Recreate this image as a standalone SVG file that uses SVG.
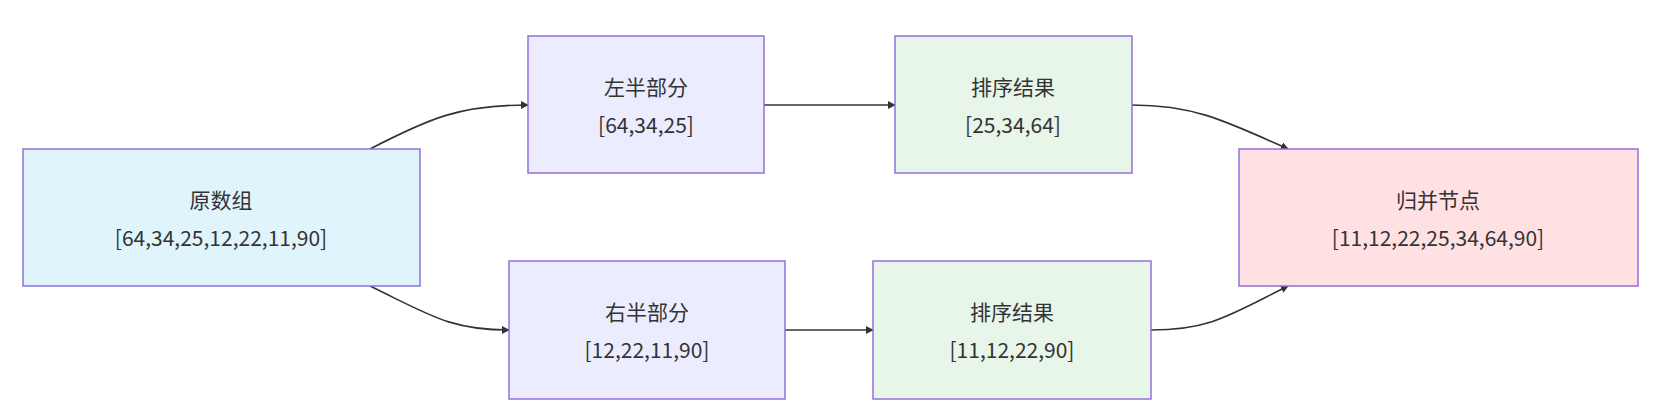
<svg xmlns="http://www.w3.org/2000/svg" width="1660" height="418" viewBox="0 0 1660 418">
<defs>
<style>
.n{stroke:#9370DB;stroke-width:1.5}
.t{font-family:"Noto Sans CJK SC","Liberation Sans",sans-serif;font-size:21px;fill:#333;text-anchor:middle}
.e{fill:none;stroke:#333;stroke-width:1.6}
</style>
<marker id="a" viewBox="0 0 10 10" refX="9" refY="5" markerWidth="8" markerHeight="8" orient="auto-start-reverse" markerUnits="userSpaceOnUse"><path d="M0,0L10,5L0,10z" fill="#333"/></marker>
</defs>
<rect width="1660" height="418" fill="#fff"/>
<g id="edges">
<path class="e" marker-end="url(#a)" d="M370,149 C430,118 460,105 528,105"/>
<path class="e" marker-end="url(#a)" d="M764,105 L895,105"/>
<path class="e" marker-end="url(#a)" d="M1132,105 C1190,105 1220,118 1288,149"/>
<path class="e" marker-end="url(#a)" d="M370,286 C430,315 450,330 509,330"/>
<path class="e" marker-end="url(#a)" d="M785,330 L873,330"/>
<path class="e" marker-end="url(#a)" d="M1151,330 C1210,330 1230,315 1288,286"/>
</g>
<g id="src"><rect class="n" x="23" y="149" width="397" height="137" fill="#E0F4FC"/><text class="t" x="221" y="208">原数组</text><text class="t" x="221" y="246">[64,34,25,12,22,11,90]</text></g>
<g id="left"><rect class="n" x="528" y="36" width="236" height="137" fill="#ECECFF"/><text class="t" x="646" y="95">左半部分</text><text class="t" x="646" y="133">[64,34,25]</text></g>
<g id="sortL"><rect class="n" x="895" y="36" width="237" height="137" fill="#E8F5E9"/><text class="t" x="1013" y="95">排序结果</text><text class="t" x="1013" y="133">[25,34,64]</text></g>
<g id="right"><rect class="n" x="509" y="261" width="276" height="138" fill="#ECECFF"/><text class="t" x="647" y="320">右半部分</text><text class="t" x="647" y="358">[12,22,11,90]</text></g>
<g id="sortR"><rect class="n" x="873" y="261" width="278" height="138" fill="#E8F5E9"/><text class="t" x="1012" y="320">排序结果</text><text class="t" x="1012" y="358">[11,12,22,90]</text></g>
<g id="merge"><rect class="n" x="1239" y="149" width="399" height="137" fill="#FFE0E3"/><text class="t" x="1438" y="208">归并节点</text><text class="t" x="1438" y="246">[11,12,22,25,34,64,90]</text></g>
</svg>
